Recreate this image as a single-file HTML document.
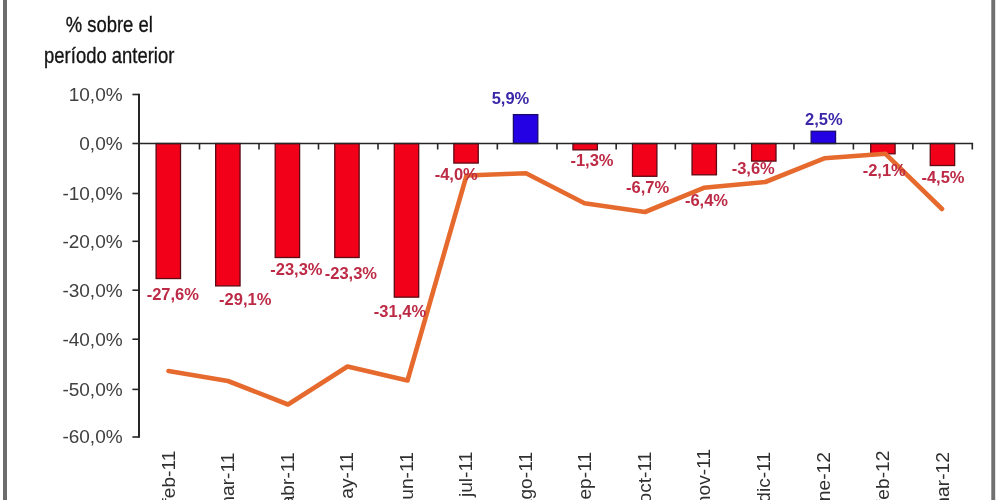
<!DOCTYPE html><html><head><meta charset="utf-8"><style>html,body{margin:0;padding:0;background:#fff;width:1000px;height:500px;overflow:hidden}svg{display:block;filter:blur(0.35px)}</style></head><body>
<svg width="1000" height="500" viewBox="0 0 1000 500" font-family="'Liberation Sans', Arial, sans-serif">
<rect x="0" y="0" width="1000" height="500" fill="#fff"/>
<rect x="3" y="0" width="4" height="500" fill="#6c6c6c"/>
<rect x="991.3" y="0" width="3.9" height="500" fill="#707070"/>
<g transform="translate(109.2 0) scale(0.82 1)" fill="#141414" stroke="#141414" stroke-width="0.35" font-size="22.5" text-anchor="middle">
<text x="0" y="32.5">% sobre el</text>
<text x="0" y="62.8">período anterior</text>
</g>
<text x="122.6" y="100.8" font-size="19" text-anchor="end" fill="#404040">10,0%</text>
<text x="122.6" y="149.8" font-size="19" text-anchor="end" fill="#404040">0,0%</text>
<text x="122.6" y="199.8" font-size="19" text-anchor="end" fill="#404040">-10,0%</text>
<text x="122.6" y="247.6" font-size="19" text-anchor="end" fill="#404040">-20,0%</text>
<text x="122.6" y="296.5" font-size="19" text-anchor="end" fill="#404040">-30,0%</text>
<text x="122.6" y="345.5" font-size="19" text-anchor="end" fill="#404040">-40,0%</text>
<text x="122.6" y="395.7" font-size="19" text-anchor="end" fill="#404040">-50,0%</text>
<text x="122.6" y="443.3" font-size="19" text-anchor="end" fill="#404040">-60,0%</text>
<rect x="156.10" y="143.50" width="24.4" height="135.05" fill="#f20019" stroke="#5c0a14" stroke-width="1.3"/>
<rect x="215.65" y="143.50" width="24.4" height="142.39" fill="#f20019" stroke="#5c0a14" stroke-width="1.3"/>
<rect x="275.20" y="143.50" width="24.4" height="114.01" fill="#f20019" stroke="#5c0a14" stroke-width="1.3"/>
<rect x="334.75" y="143.50" width="24.4" height="114.01" fill="#f20019" stroke="#5c0a14" stroke-width="1.3"/>
<rect x="394.30" y="143.50" width="24.4" height="153.64" fill="#f20019" stroke="#5c0a14" stroke-width="1.3"/>
<rect x="453.85" y="143.50" width="24.4" height="19.57" fill="#f20019" stroke="#5c0a14" stroke-width="1.3"/>
<rect x="513.40" y="114.63" width="24.4" height="28.87" fill="#2400e4" stroke="#1a0a70" stroke-width="1.3"/>
<rect x="572.95" y="143.50" width="24.4" height="6.36" fill="#f20019" stroke="#5c0a14" stroke-width="1.3"/>
<rect x="632.50" y="143.50" width="24.4" height="32.78" fill="#f20019" stroke="#5c0a14" stroke-width="1.3"/>
<rect x="692.05" y="143.50" width="24.4" height="31.32" fill="#f20019" stroke="#5c0a14" stroke-width="1.3"/>
<rect x="751.60" y="143.50" width="24.4" height="17.61" fill="#f20019" stroke="#5c0a14" stroke-width="1.3"/>
<rect x="811.15" y="131.27" width="24.4" height="12.23" fill="#2400e4" stroke="#1a0a70" stroke-width="1.3"/>
<rect x="870.70" y="143.50" width="24.4" height="10.28" fill="#f20019" stroke="#5c0a14" stroke-width="1.3"/>
<rect x="930.25" y="143.50" width="24.4" height="22.02" fill="#f20019" stroke="#5c0a14" stroke-width="1.3"/>
<line x1="139.0" y1="93.70" x2="139.0" y2="437.80" stroke="#262626" stroke-width="2"/>
<line x1="132.4" y1="94.50" x2="139.0" y2="94.50" stroke="#262626" stroke-width="1.6"/>
<line x1="132.4" y1="143.50" x2="139.0" y2="143.50" stroke="#262626" stroke-width="1.6"/>
<line x1="132.4" y1="193.50" x2="139.0" y2="193.50" stroke="#262626" stroke-width="1.6"/>
<line x1="132.4" y1="241.30" x2="139.0" y2="241.30" stroke="#262626" stroke-width="1.6"/>
<line x1="132.4" y1="290.20" x2="139.0" y2="290.20" stroke="#262626" stroke-width="1.6"/>
<line x1="132.4" y1="339.20" x2="139.0" y2="339.20" stroke="#262626" stroke-width="1.6"/>
<line x1="132.4" y1="389.40" x2="139.0" y2="389.40" stroke="#262626" stroke-width="1.6"/>
<line x1="132.4" y1="437.00" x2="139.0" y2="437.00" stroke="#262626" stroke-width="1.6"/>
<line x1="139.0" y1="143.5" x2="973.10" y2="143.5" stroke="#262626" stroke-width="1.6"/>
<line x1="199.50" y1="143.5" x2="199.50" y2="149.50" stroke="#262626" stroke-width="1.6"/>
<line x1="259.00" y1="143.5" x2="259.00" y2="149.50" stroke="#262626" stroke-width="1.6"/>
<line x1="318.50" y1="143.5" x2="318.50" y2="149.50" stroke="#262626" stroke-width="1.6"/>
<line x1="378.00" y1="143.5" x2="378.00" y2="149.50" stroke="#262626" stroke-width="1.6"/>
<line x1="437.67" y1="143.5" x2="437.67" y2="149.50" stroke="#262626" stroke-width="1.6"/>
<line x1="497.33" y1="143.5" x2="497.33" y2="149.50" stroke="#262626" stroke-width="1.6"/>
<line x1="557.00" y1="143.5" x2="557.00" y2="149.50" stroke="#262626" stroke-width="1.6"/>
<line x1="616.17" y1="143.5" x2="616.17" y2="149.50" stroke="#262626" stroke-width="1.6"/>
<line x1="675.33" y1="143.5" x2="675.33" y2="149.50" stroke="#262626" stroke-width="1.6"/>
<line x1="734.50" y1="143.5" x2="734.50" y2="149.50" stroke="#262626" stroke-width="1.6"/>
<line x1="793.95" y1="143.5" x2="793.95" y2="149.50" stroke="#262626" stroke-width="1.6"/>
<line x1="853.40" y1="143.5" x2="853.40" y2="149.50" stroke="#262626" stroke-width="1.6"/>
<line x1="912.85" y1="143.5" x2="912.85" y2="149.50" stroke="#262626" stroke-width="1.6"/>
<line x1="972.30" y1="143.5" x2="972.30" y2="149.50" stroke="#262626" stroke-width="1.6"/>
<polyline points="168.50,371.00 228.00,381.00 288.00,404.50 347.50,366.50 407.50,380.50 466.50,175.50 526.00,173.30 584.50,203.20 645.00,212.00 703.80,187.80 765.30,182.00 824.30,158.30 885.50,153.80 942.00,209.00" fill="none" stroke="#e66a2d" stroke-width="4.6" stroke-linejoin="round" stroke-linecap="round"/>
<text x="172.8" y="300.1" font-size="16.5" font-weight="bold" text-anchor="middle" fill="#bd2a45">-27,6%</text>
<text x="245.2" y="304.7" font-size="16.5" font-weight="bold" text-anchor="middle" fill="#bd2a45">-29,1%</text>
<text x="296.4" y="274.5" font-size="16.5" font-weight="bold" text-anchor="middle" fill="#bd2a45">-23,3%</text>
<text x="350.9" y="279.2" font-size="16.5" font-weight="bold" text-anchor="middle" fill="#bd2a45">-23,3%</text>
<text x="400.0" y="316.6" font-size="16.5" font-weight="bold" text-anchor="middle" fill="#bd2a45">-31,4%</text>
<text x="456.2" y="179.9" font-size="16.5" font-weight="bold" text-anchor="middle" fill="#bd2a45">-4,0%</text>
<text x="510.5" y="104.2" font-size="16.5" font-weight="bold" text-anchor="middle" fill="#3a28a8">5,9%</text>
<text x="592.0" y="166.2" font-size="16.5" font-weight="bold" text-anchor="middle" fill="#bd2a45">-1,3%</text>
<text x="647.6" y="193.1" font-size="16.5" font-weight="bold" text-anchor="middle" fill="#bd2a45">-6,7%</text>
<text x="706.5" y="205.8" font-size="16.5" font-weight="bold" text-anchor="middle" fill="#bd2a45">-6,4%</text>
<text x="753.2" y="174.4" font-size="16.5" font-weight="bold" text-anchor="middle" fill="#bd2a45">-3,6%</text>
<text x="823.8" y="125.2" font-size="16.5" font-weight="bold" text-anchor="middle" fill="#3a28a8">2,5%</text>
<text x="884.2" y="176.4" font-size="16.5" font-weight="bold" text-anchor="middle" fill="#bd2a45">-2,1%</text>
<text x="943.0" y="182.6" font-size="16.5" font-weight="bold" text-anchor="middle" fill="#bd2a45">-4,5%</text>
<text transform="translate(174.50 450.60) rotate(-90)" font-size="19.2" text-anchor="end" fill="#303030">feb-11</text>
<text transform="translate(234.05 452.60) rotate(-90)" font-size="19.2" text-anchor="end" fill="#303030">mar-11</text>
<text transform="translate(293.60 452.30) rotate(-90)" font-size="19.2" text-anchor="end" fill="#303030">abr-11</text>
<text transform="translate(353.15 452.10) rotate(-90)" font-size="19.2" text-anchor="end" fill="#303030">may-11</text>
<text transform="translate(412.70 452.10) rotate(-90)" font-size="19.2" text-anchor="end" fill="#303030">jun-11</text>
<text transform="translate(472.25 451.60) rotate(-90)" font-size="19.2" text-anchor="end" fill="#303030">jul-11</text>
<text transform="translate(531.80 451.90) rotate(-90)" font-size="19.2" text-anchor="end" fill="#303030">ago-11</text>
<text transform="translate(591.35 451.90) rotate(-90)" font-size="19.2" text-anchor="end" fill="#303030">sep-11</text>
<text transform="translate(650.90 451.60) rotate(-90)" font-size="19.2" text-anchor="end" fill="#303030">oct-11</text>
<text transform="translate(710.45 448.90) rotate(-90)" font-size="19.2" text-anchor="end" fill="#303030">nov-11</text>
<text transform="translate(770.00 451.90) rotate(-90)" font-size="19.2" text-anchor="end" fill="#303030">dic-11</text>
<text transform="translate(829.55 452.10) rotate(-90)" font-size="19.2" text-anchor="end" fill="#303030">ene-12</text>
<text transform="translate(889.10 450.60) rotate(-90)" font-size="19.2" text-anchor="end" fill="#303030">feb-12</text>
<text transform="translate(948.65 452.10) rotate(-90)" font-size="19.2" text-anchor="end" fill="#303030">mar-12</text>
</svg></body></html>
